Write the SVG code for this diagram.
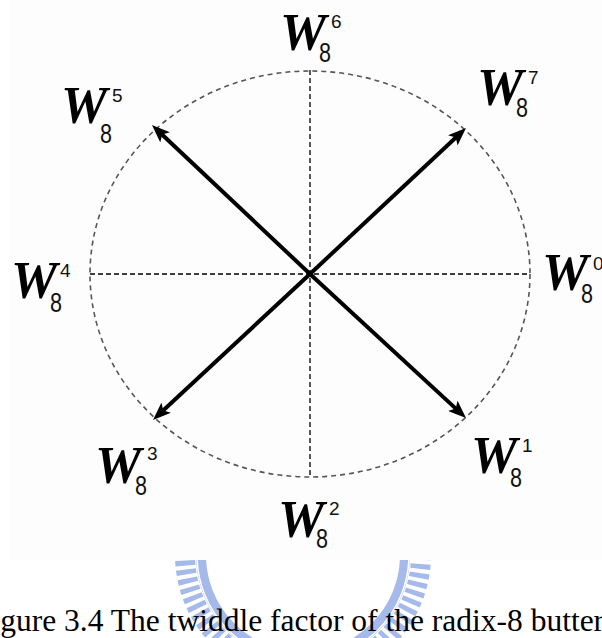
<svg xmlns="http://www.w3.org/2000/svg" width="602" height="638" viewBox="0 0 602 638">
  <style>
    .w { font-family: "Liberation Serif", "Times New Roman", serif; font-weight: bold; font-style: italic; font-size: 52px; fill: #000; }
    .sup { font-family: "Liberation Sans", Arial, sans-serif; font-size: 19px; fill: #111; }
    .sub { font-family: "Liberation Sans", Arial, sans-serif; font-size: 28px; fill: #111; }
    .axis { stroke: #000; stroke-width: 1.3; stroke-dasharray: 5 3; fill: none; }
    .circ { stroke: #555; stroke-width: 1.6; stroke-dasharray: 5 4; fill: none; }
    .vec { stroke: #000; stroke-width: 4; fill: none; marker-end: url(#ah); }
    .cap { font-family: "Liberation Serif", "Times New Roman", serif; font-size: 31.5px; fill: #000; }
  </style>
  <defs>
    <marker id="ah" markerUnits="userSpaceOnUse" markerWidth="18" markerHeight="14" refX="6" refY="7" orient="auto" viewBox="0 0 18 14">
      <path d="M0,0 L18,7 L0,14 L4,7 z" fill="#000"/>
    </marker>
    <clipPath id="wmclip"><rect x="0" y="560" width="602" height="78"/></clipPath>
  </defs>
  <rect width="602" height="638" fill="#fff"/>
  <g id="watermark" clip-path="url(#wmclip)" opacity="0.7">
    <circle cx="303" cy="555" r="118" fill="none" stroke="#7f9de2" stroke-width="20" stroke-dasharray="5 4"/>
    <circle cx="303" cy="555" r="102" fill="none" stroke="#7f9de2" stroke-width="10"/>
    <circle cx="303" cy="555" r="106" fill="none" stroke="#ffffff" stroke-width="1.5"/>
  </g>
  <rect x="10" y="0" width="592" height="560" fill="#fdfdfd"/>
  <g id="axes">
    <ellipse class="circ" cx="310" cy="274" rx="220" ry="203"/>
    <line class="axis" x1="90" y1="274" x2="529" y2="274"/>
    <line class="axis" x1="310" y1="70" x2="310" y2="477"/>
  </g>
  <g id="connectors">
    <line class="vec" x1="310" y1="274" x2="160.7" y2="133.2"/>
    <line class="vec" x1="310" y1="274" x2="457.2" y2="136.2"/>
    <line class="vec" x1="310" y1="274" x2="161.8" y2="411.8"/>
    <line class="vec" x1="310" y1="274" x2="457.2" y2="409.9"/>
  </g>
  <g id="w0"><text class="w" x="542" y="290">W</text><text class="sup" x="593" y="270">0</text><text class="sub" x="581" y="303" textLength="12" lengthAdjust="spacingAndGlyphs">8</text></g>
  <g id="w1"><text class="w" x="471" y="473">W</text><text class="sup" x="522" y="452">1</text><text class="sub" x="510" y="487" textLength="12" lengthAdjust="spacingAndGlyphs">8</text></g>
  <g id="w2"><text class="w" x="278" y="537">W</text><text class="sup" x="329" y="515">2</text><text class="sub" x="316" y="548" textLength="12" lengthAdjust="spacingAndGlyphs">8</text></g>
  <g id="w3"><text class="w" x="95" y="483">W</text><text class="sup" x="147" y="460">3</text><text class="sub" x="135" y="495" textLength="12" lengthAdjust="spacingAndGlyphs">8</text></g>
  <g id="w4"><text class="w" x="11" y="298">W</text><text class="sup" x="60" y="277">4</text><text class="sub" x="50" y="312" textLength="12" lengthAdjust="spacingAndGlyphs">8</text></g>
  <g id="w5"><text class="w" x="61" y="123">W</text><text class="sup" x="112" y="102">5</text><text class="sub" x="100" y="143" textLength="12" lengthAdjust="spacingAndGlyphs">8</text></g>
  <g id="w6"><text class="w" x="280" y="50">W</text><text class="sup" x="331" y="28">6</text><text class="sub" x="319" y="62" textLength="12" lengthAdjust="spacingAndGlyphs">8</text></g>
  <g id="w7"><text class="w" x="477" y="105">W</text><text class="sup" x="528" y="84">7</text><text class="sub" x="516" y="117" textLength="12" lengthAdjust="spacingAndGlyphs">8</text></g>
  <text class="cap" x="-26" y="631">Figure 3.4 The twiddle factor of the radix-8 butterfly</text>
</svg>
